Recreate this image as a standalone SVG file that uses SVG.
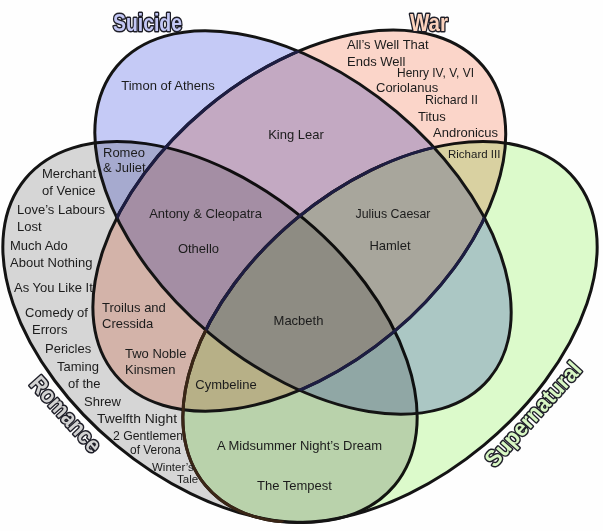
<svg xmlns="http://www.w3.org/2000/svg" width="603" height="531" viewBox="0 0 603 531">
<defs>
<clipPath id="inSuicide"><ellipse cx="303" cy="222.5" rx="243" ry="145" transform="rotate(40 303 222.5)"/></clipPath>
<clipPath id="inWar"><ellipse cx="299.3" cy="220.6" rx="240" ry="146" transform="rotate(-40 299.3 220.6)"/></clipPath>
</defs>
<style>
.f{mix-blend-mode:multiply}
.o{fill:none;stroke:#141414;stroke-width:3}
.t{font-family:"Liberation Sans",Arial,sans-serif;font-size:13px;fill:#1c1c1c}
.m{text-anchor:middle}
.sm{font-size:11.5px}
.ttl{font-family:"Liberation Sans",Arial,sans-serif;font-weight:bold;font-size:23px;stroke:#1e1e28;stroke-width:3px;paint-order:stroke;stroke-linejoin:round;text-anchor:middle}
</style>
<rect width="603" height="531" fill="#fefefe"/>
<g id="set-romance">
<ellipse class="f" cx="210" cy="332" rx="240" ry="147" transform="rotate(39.7 210 332)" fill="#d7d7d7"/>
<ellipse class="o" cx="210" cy="332" rx="240" ry="147" transform="rotate(39.7 210 332)"/>
<text class="ttl" transform="translate(66 414) rotate(48)" y="8" textLength="94" lengthAdjust="spacingAndGlyphs" fill="#d2d2d2">Romance</text>
</g>
<g id="set-supernatural">
<ellipse class="f" cx="390" cy="332" rx="240" ry="147" transform="rotate(-39.7 390 332)" fill="#ddfbcc"/>
<ellipse class="o" cx="390" cy="332" rx="240" ry="147" transform="rotate(-39.7 390 332)"/>
<text class="ttl" transform="translate(533 414) rotate(-48)" y="8" textLength="132" lengthAdjust="spacingAndGlyphs" fill="#d8f7c4">Supernatural</text>
</g>
<g id="set-war">
<ellipse class="f" cx="299.3" cy="220.6" rx="240" ry="146" transform="rotate(-40 299.3 220.6)" fill="#fcd6ca"/>
<ellipse class="o" cx="299.3" cy="220.6" rx="240" ry="146" transform="rotate(-40 299.3 220.6)"/>
<text class="ttl" x="429" y="30.5" textLength="38" lengthAdjust="spacingAndGlyphs" fill="#fcd3bd">War</text>
</g>
<g id="set-suicide">
<ellipse class="f" cx="303" cy="222.5" rx="243" ry="145" transform="rotate(40 303 222.5)" fill="#c6cbf7"/>
<ellipse class="o" cx="303" cy="222.5" rx="243" ry="145" transform="rotate(40 303 222.5)"/>
<text class="ttl" x="147.5" y="30.5" textLength="69" lengthAdjust="spacingAndGlyphs" fill="#c3c7f5">Suicide</text>
</g>
<g id="outline-tints" fill="none" stroke-width="3">
<ellipse clip-path="url(#inWar)" stroke="#3a2616" cx="390" cy="332" rx="240" ry="147" transform="rotate(-39.7 390 332)"/>
<g clip-path="url(#inSuicide)" stroke="#1d1d42">
<ellipse cx="299.3" cy="220.6" rx="240" ry="146" transform="rotate(-40 299.3 220.6)"/>
<ellipse cx="390" cy="332" rx="240" ry="147" transform="rotate(-39.7 390 332)"/>
</g>
</g>
<g id="labels">
<text class="t m" x="168" y="90">Timon of Athens</text>
<text class="t m" x="296" y="139">King Lear</text>
<text class="t" x="103" y="157">Romeo</text>
<text class="t" x="103" y="172">&amp; Juliet</text>
<text class="t" x="42" y="178">Merchant</text>
<text class="t" x="42" y="195">of Venice</text>
<text class="t" x="17" y="214">Love’s Labours</text>
<text class="t" x="17" y="231">Lost</text>
<text class="t" x="10" y="250">Much Ado</text>
<text class="t" x="10" y="267">About Nothing</text>
<text class="t" x="14" y="292">As You Like It</text>
<text class="t" x="25" y="317">Comedy of</text>
<text class="t" x="32" y="334">Errors</text>
<text class="t" x="45" y="353">Pericles</text>
<text class="t" x="57" y="371">Taming</text>
<text class="t" x="68" y="388">of the</text>
<text class="t" x="84" y="406">Shrew</text>
<text class="t" x="97" y="423" textLength="80" lengthAdjust="spacingAndGlyphs">Twelfth Night</text>
<text class="t" x="113" y="440" textLength="70" lengthAdjust="spacingAndGlyphs">2 Gentlemen</text>
<text class="t" x="130" y="454" textLength="51" lengthAdjust="spacingAndGlyphs">of Verona</text>
<text class="t sm" x="152" y="471">Winter’s</text>
<text class="t sm" x="177" y="483">Tale</text>
<text class="t m" x="205.5" y="218">Antony &amp; Cleopatra</text>
<text class="t m" x="198.5" y="253">Othello</text>
<text class="t" x="102" y="312">Troilus and</text>
<text class="t" x="102" y="328">Cressida</text>
<text class="t" x="125" y="358">Two Noble</text>
<text class="t" x="125" y="374">Kinsmen</text>
<text class="t m" x="226" y="389">Cymbeline</text>
<text class="t m" x="298.5" y="325">Macbeth</text>
<text class="t m" x="299.5" y="450">A Midsummer Night’s Dream</text>
<text class="t m" x="294.5" y="490">The Tempest</text>
<text class="t" x="347" y="49">All’s Well That</text>
<text class="t" x="347" y="66">Ends Well</text>
<text class="t" x="397" y="77" textLength="77" lengthAdjust="spacingAndGlyphs">Henry IV, V, VI</text>
<text class="t" x="376" y="92">Coriolanus</text>
<text class="t" x="425" y="104" textLength="53" lengthAdjust="spacingAndGlyphs">Richard II</text>
<text class="t" x="418" y="121">Titus</text>
<text class="t" x="433" y="137">Andronicus</text>
<text class="t sm" x="448" y="158">Richard III</text>
<text class="t m" x="393" y="218" textLength="75" lengthAdjust="spacingAndGlyphs">Julius Caesar</text>
<text class="t m" x="390" y="250">Hamlet</text>
</g>
</svg>
